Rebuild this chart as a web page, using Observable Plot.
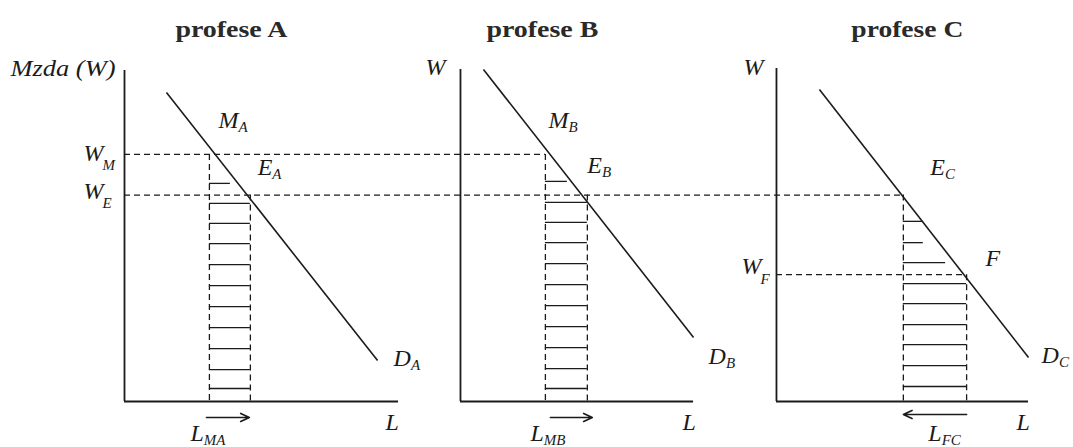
<!DOCTYPE html>
<html>
<head>
<meta charset="utf-8">
<script src="https://cdn.jsdelivr.net/npm/d3@7"></script>
<script src="https://cdn.jsdelivr.net/npm/@observablehq/plot@0.6"></script>
<style>
  html, body { margin: 0; padding: 0; background: #ffffff; }
  #chart { width: 1073px; height: 447px; overflow: hidden; }
</style>
</head>
<body>
<div id="chart"></div>
<script>
// ---------------- DATA (chart units: L = labour, W = wage) ----------------
const panels = ["A", "B", "C"];
const titles = ["profese A", "profese B", "profese C"];
const titleL = [3.21, 2.46, 3.93];
const titleW = 10.96;

const axisNames = ["Mzda (W)", "W", "W"];
const axisNameL = [-0.27, -0.45, -0.39];
const axisNameW = [9.76, 9.79, 9.79];

const axisTopW = [9.94, 9.97, 10.0];
const axisEndL = [8.23, 7.0, 7.57];

const demandStartL = [1.26, 0.69, 1.29];
const demandStartW = [9.28, 9.97, 9.37];
const demandEndL = [7.60, 7.00, 7.57];
const demandEndW = [1.23, 1.92, 1.32];

const wageM = 7.42;   // W_M
const wageE = 6.2;    // W_E
const wageF = 3.81;   // W_F
const empM = [2.55, 2.55, null];
const empE = [3.78, 3.81, 3.81];
const empF = [null, null, 5.71];

const hatchA_W = [6.55, 5.95, 5.35, 4.74, 4.11, 3.48, 2.85, 2.22, 1.59, 0.96, 0.39];
const hatchA_end = [3.18, 3.78, 3.78, 3.78, 3.78, 3.78, 3.78, 3.78, 3.78, 3.78, 3.78];
const hatchB_W = [6.61, 5.98, 5.38, 4.77, 4.14, 3.51, 2.88, 2.25, 1.62, 0.99, 0.39];
const hatchB_end = [3.21, 3.81, 3.81, 3.81, 3.81, 3.81, 3.81, 3.81, 3.81, 3.81, 3.81];
const hatchC_W = [5.41, 4.77, 4.17, 3.54, 2.94, 2.31, 1.71, 1.08, 0.45];
const hatchC_end = [4.41, 4.41, 5.08, 5.71, 5.71, 5.71, 5.71, 5.71, 5.71];

const arrowFromL = [2.46, 2.70, 5.71];
const arrowToL = [3.75, 3.96, 3.81];
const arrowW = [-0.48, -0.48, -0.39];

const labelPanel = [0, 0, 0, 0, 0, 0, 0, 1, 1, 1, 1, 1, 2, 2, 2, 2, 2, 2];
const labelMain  = ["M", "E", "D", "L", "L", "W", "W", "M", "E", "D", "L", "L", "E", "W", "F", "D", "L", "L"];
const labelSub   = ["A", "A", "A", "", "MA", "M", "E", "B", "B", "B", "", "MB", "C", "F", "", "C", "", "FC"];
const labelL     = [2.82, 4.0, 8.08, 7.84, 1.98, -1.23, -1.23, 2.64, 3.81, 7.45, 6.67, 2.1, 4.62, -1.05, 6.28, 7.96, 7.21, 4.56];
const labelW     = [8.2, 6.79, 1.08, -0.87, -1.2, 7.21, 6.07, 8.2, 6.85, 1.14, -0.87, -1.2, 6.79, 3.84, 4.08, 1.17, -0.87, -1.2];

// ---------------- LAYOUT / STYLE ----------------
const panelOffset = [0, 10.09, 19.58];
const ink = "#1b1b1b";
const serif = "Liberation Serif";
const dash = "6,4";
const subOffset = { 5: [-1, 9], 6: [-1, 9], 13: [-1, 10] }; // lowered subscripts of wage labels
const gx = (p, L) => panelOffset[p] + L;

// ---------------- BUILD TABLES ----------------
const idx = panels.map((_, i) => i);
const axesY = idx.map(p => ({x: gx(p, 0), y1: 0, y2: axisTopW[p]}));
const axesX = idx.map(p => ({x1: gx(p, 0), x2: gx(p, axisEndL[p]), y: 0}));
const demand = idx.map(p => ({x1: gx(p, demandStartL[p]), y1: demandStartW[p], x2: gx(p, demandEndL[p]), y2: demandEndW[p]}));

const dashedH = [
  {x1: gx(0, 0), x2: gx(1, empM[1]), y: wageM},
  {x1: gx(0, 0), x2: gx(2, empE[2]), y: wageE},
  {x1: gx(2, 0), x2: gx(2, empF[2]), y: wageF}
];
const dashedV = [];
idx.forEach(p => {
  if (empM[p] != null) dashedV.push({x: gx(p, empM[p]), y1: wageM, y2: 0});
  if (empE[p] != null) dashedV.push({x: gx(p, empE[p]), y1: wageE, y2: 0});
  if (empF[p] != null) dashedV.push({x: gx(p, empF[p]), y1: wageF, y2: 0});
});

const hatches = [];
hatchA_W.forEach((w, i) => hatches.push({x1: gx(0, empM[0]), x2: gx(0, hatchA_end[i]), y: w}));
hatchB_W.forEach((w, i) => hatches.push({x1: gx(1, empM[1]), x2: gx(1, hatchB_end[i]), y: w}));
hatchC_W.forEach((w, i) => hatches.push({x1: gx(2, empE[2]), x2: gx(2, hatchC_end[i]), y: w}));

const arrows = idx.map(p => ({x1: gx(p, arrowFromL[p]), x2: gx(p, arrowToL[p]), y: arrowW[p]}));
const titleData = idx.map(p => ({x: gx(p, titleL[p]), y: titleW, t: titles[p]}));
const axisNameData = idx.map(p => ({x: gx(p, axisNameL[p]), y: axisNameW[p], t: axisNames[p]}));
const labels = labelMain.map((t, i) => ({x: gx(labelPanel[i], labelL[i]), y: labelW[i], t, s: labelSub[i]}));

// ---------------- PLOT ----------------
const chart = Plot.plot({
  width: 1073,
  height: 447,
  marginLeft: 124,
  marginRight: 0,
  marginTop: 68,
  marginBottom: 46,
  x: {domain: [0, 28.5], axis: null},
  y: {domain: [0, 10], axis: null},
  style: {background: "#ffffff"},
  marks: [
    Plot.ruleY(hatches, {x1: "x1", x2: "x2", y: "y", stroke: ink, strokeWidth: 1.3}),
    Plot.ruleY(dashedH, {x1: "x1", x2: "x2", y: "y", stroke: ink, strokeWidth: 1.3, strokeDasharray: dash}),
    Plot.ruleX(dashedV, {x: "x", y1: "y1", y2: "y2", stroke: ink, strokeWidth: 1.3, strokeDasharray: dash}),
    Plot.link(demand, {x1: "x1", y1: "y1", x2: "x2", y2: "y2", stroke: ink, strokeWidth: 1.6}),
    Plot.ruleX(axesY, {x: "x", y1: "y1", y2: "y2", stroke: ink, strokeWidth: 1.8}),
    Plot.ruleY(axesX, {x1: "x1", x2: "x2", y: "y", stroke: ink, strokeWidth: 1.8}),
    Plot.arrow(arrows, {x1: "x1", x2: "x2", y1: "y", y2: "y", stroke: ink, strokeWidth: 1.6, headLength: 9, headAngle: 50}),
    Plot.text(titleData, {x: "x", y: "y", text: "t", textAnchor: "middle", lineAnchor: "bottom",
      fontFamily: serif, fontWeight: "bold", fontSize: 23, fill: "#2a2a2a", ariaDescription: "titles"}),
    Plot.text(axisNameData, {x: "x", y: "y", text: "t", textAnchor: "end", lineAnchor: "bottom",
      fontFamily: serif, fontStyle: "italic", fontSize: 24, fill: ink, ariaDescription: "axisnames"}),
    Plot.text(labels, {x: "x", y: "y", text: "t", textAnchor: "start", lineAnchor: "bottom",
      fontFamily: serif, fontStyle: "italic", fontSize: 24, fill: ink, ariaDescription: "labels"})
  ]
});
document.getElementById("chart").append(chart);

// subscripts as tspans
d3.select(chart).selectAll('g[aria-description="labels"] text').each(function(i) {
  const d = labels[i];
  if (!d || !d.s) return;
  const off = subOffset[i] || [0, 4];
  d3.select(this).append("tspan")
    .attr("font-size", 15)
    .attr("dx", off[0])
    .attr("dy", off[1])
    .text(d.s);
});
// widen titles and main axis name to the reference's proportions
d3.select(chart).selectAll('g[aria-description="titles"] text')
  .attr("textLength", 112).attr("lengthAdjust", "spacingAndGlyphs");
d3.select(chart).selectAll('g[aria-description="axisnames"] text').each(function(i) {
  if (i === 0) d3.select(this).attr("textLength", 105).attr("lengthAdjust", "spacingAndGlyphs");
});
</script>
</body>
</html>
